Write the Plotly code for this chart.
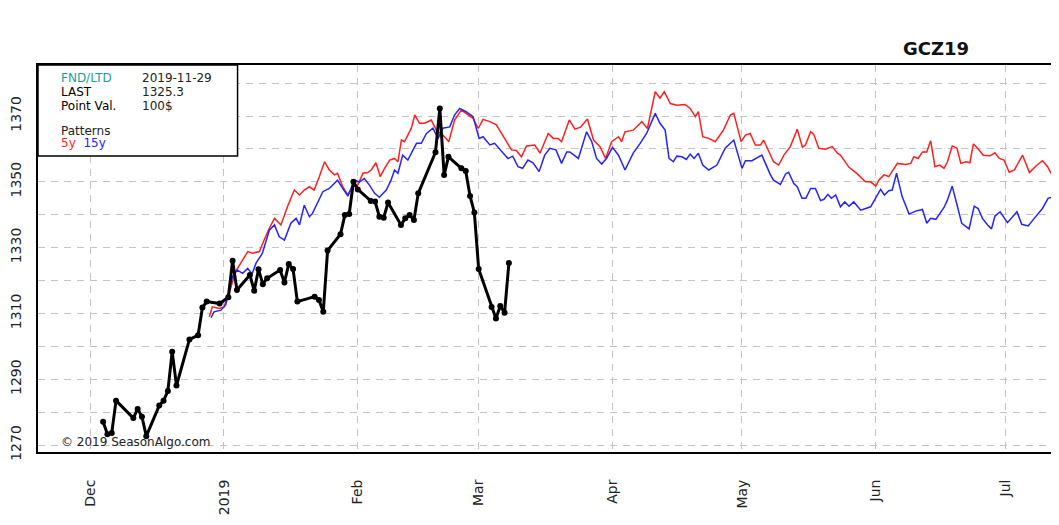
import pandas as pd
import plotly.graph_objects as go

# -- Data ---------------------------------------------------------------------
# GCZ19 (Dec 2019 gold) daily closes
price_dates = [
    "2018-12-04", "2018-12-05", "2018-12-06", "2018-12-07", "2018-12-11", "2018-12-12",
    "2018-12-13", "2018-12-14", "2018-12-17", "2018-12-18", "2018-12-19", "2018-12-20",
    "2018-12-21", "2018-12-24", "2018-12-26", "2018-12-27", "2018-12-28", "2018-12-31",
    "2019-01-02", "2019-01-03", "2019-01-04", "2019-01-07", "2019-01-08", "2019-01-09",
    "2019-01-10", "2019-01-11", "2019-01-14", "2019-01-15", "2019-01-16", "2019-01-17",
    "2019-01-18", "2019-01-22", "2019-01-23", "2019-01-24", "2019-01-25", "2019-01-28",
    "2019-01-29", "2019-01-30", "2019-01-31", "2019-02-01", "2019-02-04", "2019-02-05",
    "2019-02-06", "2019-02-07", "2019-02-08", "2019-02-11", "2019-02-12", "2019-02-13",
    "2019-02-14", "2019-02-15", "2019-02-19", "2019-02-20", "2019-02-21", "2019-02-22",
    "2019-02-25", "2019-02-26", "2019-02-27", "2019-02-28", "2019-03-01", "2019-03-04",
    "2019-03-05", "2019-03-06", "2019-03-07", "2019-03-08",
]
price_close = [
    1277.1, 1273.3, 1273.7, 1283.5, 1278.2, 1281.0, 1278.6, 1272.7, 1282.0, 1283.5,
    1286.4, 1298.4, 1288.1, 1302.1, 1303.4, 1311.8, 1313.6, 1313.0,
    1314.9, 1326.0, 1317.1, 1321.7, 1316.9, 1323.4, 1318.9, 1320.7, 1323.2, 1319.4,
    1325.0, 1323.5, 1313.6, 1315.1, 1314.1, 1310.5, 1329.1, 1334.1, 1339.9, 1340.2,
    1350.0, 1347.7, 1344.2, 1344.0, 1339.4, 1339.1, 1343.7, 1336.9, 1338.9, 1339.9,
    1338.4, 1346.5, 1359.0, 1372.3, 1352.1, 1357.6, 1354.1, 1353.3, 1345.7, 1340.7,
    1323.5, 1312.0, 1308.5, 1312.3, 1310.2, 1325.3,
]

# seasonal patterns, x given as days since PATTERN_ORIGIN
PATTERN_ORIGIN = "2018-12-01"
p5_day = [
    27.6, 28.3, 29.9, 31.0, 32.2, 33.7, 35.3, 36.5, 37.6, 39.2, 40.3, 41.5, 42.7, 44.2,
    45.7, 47.3, 48.5, 49.6, 50.8, 51.9, 53.1, 54.3, 55.4, 56.6, 57.3, 58.5, 59.7, 60.8,
    62.0, 63.2, 64.3, 65.1, 66.2, 67.2, 68.2, 69.4, 70.5, 71.3, 72.1, 72.8, 73.6, 74.4,
    75.2, 76.3, 77.5, 79.0, 80.2, 81.7, 83.1, 84.4, 86.0, 87.1, 88.7, 89.9, 91.0, 92.6,
    94.1, 95.3, 96.4, 97.6, 98.7, 99.9, 101.1, 103.0, 104.2, 106.1, 107.3, 108.4, 109.2,
    111.0, 112.3, 113.6, 115.2, 116.6, 118.1, 119.4, 120.8, 122.4, 123.1, 123.9, 125.8,
    127.8, 129.1, 130.9, 132.0, 133.0, 134.4, 135.9, 137.8, 139.0, 140.2, 140.9, 141.9,
    143.3, 144.8, 146.7, 148.3, 149.1, 150.8, 151.8, 152.9, 154.1, 155.3, 156.0, 158.3,
    159.5, 160.7, 162.2, 163.8, 165.0, 165.7, 166.9, 167.6, 168.8, 170.3, 171.9, 173.1,
    173.8, 175.8, 177.7, 179.6, 180.8, 182.0, 182.7, 183.9, 185.0, 187.0, 188.9, 190.1,
    190.8, 191.8, 192.8, 193.8, 194.7, 195.7, 196.8, 197.8, 198.6, 199.7, 200.8, 201.7,
    202.9, 203.8, 204.6, 205.6, 206.9, 208.5, 209.6, 210.6, 211.7, 212.9, 214.1, 216.0,
    217.6, 219.1, 220.6, 221.8, 223.0, 223.8, 224.7, 225.4,
]
p5_val = [
    1309.0, 1312.0, 1311.5, 1312.0, 1316.1, 1322.7, 1326.2, 1328.8, 1328.3, 1328.8, 1332.3,
    1335.9, 1338.9, 1336.9, 1342.4, 1347.5, 1346.0, 1347.5, 1348.5, 1347.5, 1351.6, 1356.1,
    1353.6, 1352.1, 1352.6, 1348.5, 1346.0, 1348.5, 1349.0, 1352.6, 1352.8, 1353.6, 1355.8,
    1351.6, 1354.1, 1356.6, 1357.1, 1356.1, 1362.7, 1362.2, 1364.2, 1366.3, 1370.3, 1367.8,
    1367.8, 1368.8, 1365.7, 1364.2, 1362.2, 1368.8, 1371.8, 1370.8, 1369.3, 1366.2, 1369.0,
    1368.3, 1367.3, 1364.7, 1362.2, 1359.7, 1359.5, 1357.6, 1360.9, 1361.2, 1358.7, 1364.7,
    1363.2, 1363.2, 1362.2, 1368.8, 1366.0, 1366.6, 1369.1, 1362.7, 1360.7, 1357.1, 1362.2,
    1363.7, 1362.2, 1365.2, 1365.7, 1368.3, 1366.2, 1377.4, 1375.4, 1377.4, 1373.8, 1373.3,
    1373.5, 1372.3, 1369.8, 1371.3, 1363.7, 1363.2, 1362.2, 1365.7, 1370.3, 1370.8, 1362.2,
    1364.2, 1364.7, 1361.2, 1361.2, 1362.7, 1356.1, 1355.1, 1358.1, 1360.7, 1366.0, 1360.5,
    1361.2, 1365.2, 1364.5, 1360.2, 1359.9, 1360.7, 1358.7, 1358.1, 1354.4, 1352.4, 1350.0,
    1350.0, 1348.7, 1350.5, 1352.1, 1351.6, 1355.6, 1355.3, 1355.6, 1357.6, 1357.1, 1359.1,
    1359.1, 1362.5, 1354.6, 1355.1, 1354.1, 1356.1, 1360.9, 1360.2, 1355.6, 1356.1, 1355.8,
    1361.5, 1360.2, 1358.1, 1357.9, 1358.8, 1357.1, 1356.6, 1352.9, 1353.6, 1358.1, 1352.8,
    1354.8, 1356.4, 1354.6, 1351.6, 1348.5, 1348.5, 1346.5,
]
p15_day = [
    28.0, 28.7, 30.3, 31.4, 33.0, 34.1, 35.3, 36.5, 37.5, 38.4, 39.9, 41.5, 42.7, 43.8,
    45.0, 46.5, 47.7, 48.5, 49.6, 50.8, 51.5, 53.9, 55.4, 57.3, 58.5, 59.7, 61.2, 62.4,
    63.5, 64.7, 65.9, 67.0, 68.6, 69.7, 70.5, 71.3, 72.4, 73.6, 74.8, 75.6, 76.7, 77.9,
    79.4, 80.6, 81.7, 83.3, 84.4, 85.6, 87.1, 88.7, 90.1, 91.0, 92.6, 93.7, 95.7, 96.8,
    97.9, 99.1, 100.2, 101.4, 102.6, 104.0, 105.3, 106.5, 107.9, 109.2, 110.4, 111.1,
    113.1, 115.0, 116.2, 117.3, 118.5, 119.6, 121.0, 122.4, 123.9, 125.8, 127.4, 128.9,
    130.9, 132.0, 133.2, 134.1, 135.1, 135.9, 137.1, 138.1, 139.0, 139.9, 140.9, 141.9,
    143.3, 145.2, 147.1, 149.1, 151.0, 151.8, 153.3, 155.6, 157.6, 158.3, 159.9, 161.1,
    161.8, 163.0, 163.8, 164.9, 165.8, 166.9, 168.0, 169.2, 170.0, 170.9, 171.7, 172.7,
    173.8, 174.8, 175.8, 176.9, 178.5, 180.8, 183.1, 184.0, 185.0, 185.8, 186.8, 188.1,
    189.7, 191.2, 192.8, 193.8, 194.7, 195.9, 197.8, 198.6, 199.7, 200.9, 201.9, 203.6,
    204.8, 205.7, 206.7, 207.9, 208.8, 209.6, 210.8, 212.5, 213.7, 214.7, 215.8, 217.3,
    218.7, 220.6, 221.9, 223.4, 224.7, 225.4,
]
p15_val = [
    1308.7, 1310.5, 1311.0, 1312.6, 1321.2, 1323.2, 1322.2, 1323.7, 1322.0, 1325.2, 1328.3,
    1335.3, 1336.9, 1333.3, 1332.3, 1337.4, 1338.9, 1336.9, 1342.9, 1339.4, 1340.4, 1347.0,
    1348.0, 1350.5, 1348.0, 1345.7, 1350.5, 1350.0, 1351.0, 1349.0, 1346.5, 1345.3, 1347.5,
    1350.5, 1353.6, 1352.6, 1358.1, 1356.6, 1359.7, 1361.7, 1361.7, 1364.7, 1366.3, 1363.2,
    1366.3, 1366.7, 1370.3, 1372.3, 1371.3, 1369.8, 1363.2, 1363.7, 1361.2, 1361.7, 1358.7,
    1357.1, 1357.8, 1354.6, 1354.1, 1356.6, 1355.8, 1353.1, 1358.1, 1360.2, 1359.7, 1355.6,
    1359.1, 1359.1, 1357.1, 1365.2, 1362.2, 1357.1, 1355.4, 1357.1, 1360.5, 1358.1, 1353.6,
    1358.7, 1361.7, 1364.7, 1370.8, 1367.8, 1365.7, 1357.1, 1356.1, 1357.8, 1357.6, 1356.8,
    1358.4, 1357.1, 1358.7, 1355.1, 1353.6, 1355.1, 1360.2, 1362.7, 1354.1, 1356.4, 1356.4,
    1358.1, 1352.1, 1350.5, 1349.2, 1352.4, 1352.9, 1349.5, 1348.5, 1345.0, 1345.0, 1348.0,
    1348.0, 1344.3, 1344.7, 1346.2, 1345.0, 1346.0, 1342.4, 1343.9, 1342.6, 1343.9, 1341.4,
    1342.4, 1347.7, 1346.0, 1347.3, 1347.5, 1352.6, 1345.5, 1340.2, 1341.1, 1341.6, 1337.4,
    1338.9, 1338.6, 1342.2, 1344.5, 1348.7, 1342.4, 1337.4, 1335.7, 1342.6, 1341.9, 1338.9,
    1336.9, 1335.7, 1339.6, 1340.9, 1337.6, 1339.6, 1340.9, 1337.1, 1336.6, 1338.9, 1341.9,
    1345.0, 1345.5, 1346.7, 1346.0,
]

month_ticks = ["2018-12-01", "2019-01-01", "2019-02-01", "2019-03-01", "2019-04-01",
               "2019-05-01", "2019-06-01", "2019-07-01"]
month_labels = ["Dec", "2019", "Feb", "Mar", "Apr", "May", "Jun", "Jul"]

# the source chart runs on past the right edge; only this much is visible here
X_RANGE = ["2018-11-18 22:00", "2019-07-11 14:00"]
Y_RANGE = [1267.9, 1385.5]

# -- Style --------------------------------------------------------------------
FONT  = "DejaVu Sans"
GRID  = "#c4c4c4"
RED   = "#ff1f1f"
BLUE  = "#2424ff"
TEAL  = "#1e9e9e"


def to_dates(days):
    return pd.Timestamp(PATTERN_ORIGIN) + pd.to_timedelta(days, unit="D")


fig = go.Figure()
fig.add_trace(go.Scatter(x=to_dates(p5_day), y=p5_val, mode="lines",
    line=dict(color=RED, width=1.5), name="5y"))
fig.add_trace(go.Scatter(x=to_dates(p15_day), y=p15_val, mode="lines",
    line=dict(color=BLUE, width=1.5), name="15y"))
fig.add_trace(go.Scatter(x=price_dates, y=price_close, mode="lines+markers",
    line=dict(color="black", width=3), marker=dict(color="black", size=6),
    name="GCZ19"))

# info box in the upper left corner (plot area is 1015 px wide now)
fig.add_shape(type="rect", xref="paper", yref="paper", x0=0, x1=0.197, y0=0.765, y1=1,
              line=dict(color="black", width=1.5), fillcolor="white", layer="above")

info = [
    ("FND/LTD", "2019-11-29", 0.9664, TEAL),
    ("LAST", "1325.3", 0.9302, "black"),
    ("Point Val.", "100$", 0.894, "black"),
]
for label, value, yy, col in info:
    fig.add_annotation(x=0.0207, y=yy, text=label, font=dict(color=col))
    fig.add_annotation(x=0.1005, y=yy, text=value)
fig.add_annotation(x=0.0207, y=0.8295, text="Patterns")
fig.add_annotation(x=0.0207, y=0.7984,
    text=f"<span style='color:{RED}'>5y</span>  <span style='color:{BLUE}'>15y</span>")
fig.add_annotation(x=0.0207, y=0.0258, text="© 2019 SeasonAlgo.com")
fig.update_annotations(xref="paper", yref="paper", xanchor="left", yanchor="middle",
                       showarrow=False, font_family=FONT, font_size=12)

# the page adds an 8px body margin, so the figure is offset and a bit smaller
fig.update_layout(
    width=1043, height=517,
    paper_bgcolor="white", plot_bgcolor="white",
    font=dict(family=FONT, size=14, color="#222222"),
    showlegend=False,
    title=dict(text="<b>GCZ19</b>", x=0.8897, xref="container", xanchor="center",
               y=0.9207, yref="container", yanchor="middle",
               font=dict(size=18, color="#111111")),
    margin=dict(l=28, r=0, t=57, b=73),
    xaxis=dict(
        type="date", range=X_RANGE,
        tickmode="array", tickvals=month_ticks, ticktext=month_labels,
        tickangle=-90, ticks="outside", ticklen=20, tickcolor="rgba(0,0,0,0)",
        showgrid=True, gridcolor=GRID, griddash="7px,6px", gridwidth=1.3,
        showline=True, linecolor="black", linewidth=2, mirror=True,
        zeroline=False,
    ),
    yaxis=dict(
        range=Y_RANGE, tick0=1270, dtick=20,
        tickangle=-90, ticks="outside", ticklen=9, tickcolor="rgba(0,0,0,0)",
        showgrid=True, gridcolor=GRID, griddash="7px,6px", gridwidth=1.3,
        minor=dict(tick0=1270, dtick=10, showgrid=True, gridcolor=GRID,
                   griddash="7px,6px", gridwidth=1.3),
        showline=True, linecolor="black", linewidth=2,
        zeroline=False,
    ),
)

fig.write_html("out.html")
